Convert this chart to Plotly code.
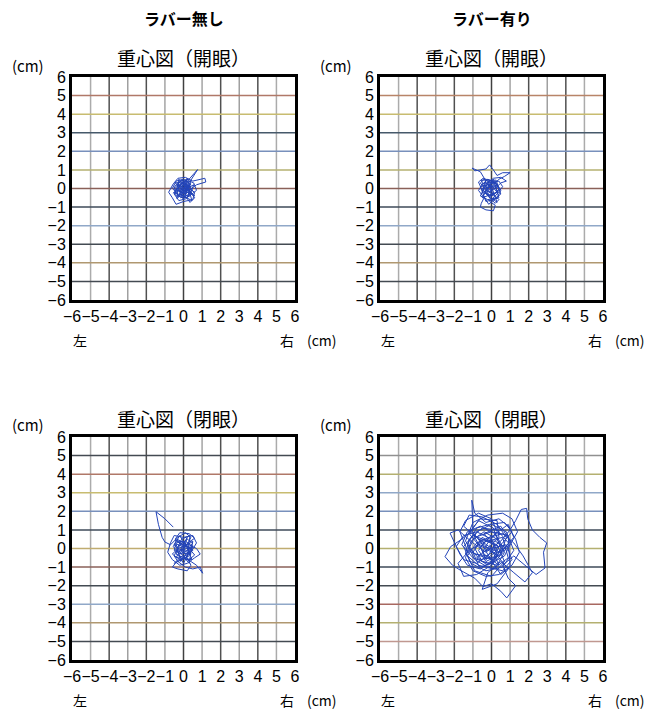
import plotly.graph_objects as go

W, H = 656, 711

# ---------------- data (cm) ----------------
ticks = [-6, -5, -4, -3, -2, -1, 0, 1, 2, 3, 4, 5, 6]
col_titles = ["ラバー無し", "ラバー有り"]
panel_titles = ["重心図（開眼）", "重心図（開眼）", "重心図（閉眼）", "重心図（閉眼）"]

p1_x = [0.0, 0.3, 0.1, -0.3, -0.1, 0.4, 0.2, -0.4, -0.5, -0.2, 0.3, 0.76, 0.4, 0.1, 0.6, 0.5, 0.0, -0.4, -0.6, -0.8,
        -0.55, -0.3, 0.1, 0.5, 1.15, 1.2, 0.7, 0.3, -0.1, -0.35, 0.0, 0.35, 0.25, -0.15, -0.45, -0.3, 0.1, 0.45, 0.7, 0.55,
        0.2, -0.2, -0.5, -0.25, 0.15, 0.4, 0.15, -0.15, 0.05, 0.3, 0.0, -0.4, -0.6, -0.3, 0.1, 0.35, 0.6, 0.3, 0.0, -0.2,
        0.2, 0.4, 0.1, -0.1,
        0.2, -0.3, 0.5, -0.1, -0.5, 0.3, 0.55, -0.2, 0.0, 0.4, -0.45, 0.1, 0.6, -0.25, -0.35, 0.25, 0.45, -0.1, 0.2, -0.55,
        0.35, 0.0, -0.2, 0.15, 0.05]
p1_y = [0.0, 0.2, -0.3, -0.1, 0.3, 0.1, -0.5, -0.4, 0.1, 0.4, 0.5, 1.02, 0.45, 0.1, -0.2, -0.6, -0.7, -0.85, -0.5, -0.2,
        0.25, 0.55, 0.6, 0.4, 0.55, 0.35, 0.2, -0.1, -0.25, 0.15, 0.35, 0.0, -0.35, -0.5, -0.2, 0.2, 0.0, -0.3, -0.1, 0.3,
        0.45, 0.2, -0.3, -0.65, -0.55, -0.2, 0.15, 0.0, -0.2, 0.3, 0.5, 0.4, 0.0, -0.3, -0.4, -0.75, -0.5, -0.1, 0.2, -0.15,
        -0.1, 0.25, 0.35, 0.1,
        0.3, -0.4, -0.1, 0.45, 0.0, -0.45, 0.2, -0.2, -0.6, 0.4, 0.3, -0.15, -0.4, 0.5, -0.55, 0.1, -0.65, -0.35, 0.55, -0.25,
        0.15, 0.25, 0.05, -0.3, 0.05]

p2_x = [0.0, -0.3, 0.2, 0.4, 0.0, -0.5, -0.3, -0.6, -1.05, -0.9, -0.3, -0.1, 0.1, 0.3, 0.6, 1.0, 0.7, 0.4, 0.1, -0.4,
        -0.6, -0.2, 0.3, 0.5, 0.2, -0.2, -0.5, -0.7, -0.4, -0.55, -0.6, -0.3, 0.1, 0.2, -0.1, 0.3, 0.6, 0.4, 0.0, -0.4,
        -0.6, -0.3, 0.1, 0.4, 0.2, -0.2, -0.5, -0.2, 0.2, 0.5, 0.8, 0.5, 0.1, -0.3, -0.1, 0.3, 0.0, -0.45, -0.7, -0.5,
        -0.1, 0.35, 0.15, -0.2, 0.0,
        -0.2, 0.3, -0.5, 0.1, 0.4, -0.3, -0.6, 0.2, 0.45, -0.1, -0.4, 0.0, 0.3, -0.25, -0.55, 0.25, 0.5, -0.15, -0.45, 0.05,
        0.35, -0.3, 0.1, -0.1, 0.0]
p2_y = [0.0, 0.3, 0.4, -0.1, -0.4, -0.2, 0.4, 0.9, 1.1, 0.95, 1.05, 1.27, 1.0, 0.7, 0.85, 0.85, 0.65, 0.5, 0.2, 0.0,
        -0.4, -0.6, -0.5, -0.1, 0.3, 0.5, 0.2, -0.1, -0.5, -0.8, -1.0, -1.15, -1.2, -0.9, -0.7, -0.3, 0.1, 0.4, 0.3, 0.5,
        0.3, -0.1, -0.3, -0.6, -0.8, -0.4, 0.0, 0.2, 0.0, 0.3, 0.4, 0.6, 0.55, 0.2, -0.2, 0.1, 0.4, 0.55, 0.35, -0.1,
        -0.35, -0.2, 0.15, 0.05, -0.15,
        0.4, -0.2, -0.5, 0.5, -0.5, -0.7, 0.1, 0.3, 0.0, -0.5, 0.35, 0.1, -0.75, -0.3, 0.45, 0.45, -0.3, -0.85, -0.35, 0.35,
        0.2, 0.0, -0.4, 0.2, -0.1]

p3_x = [-0.55, -1.0, -1.48, -1.35, -1.15, -1.0, -0.7, -0.3, 0.1, 0.4, 0.2, -0.3, -0.6, -0.2, 0.3, 0.5, 0.1, -0.4, -0.5, -0.1,
        0.4, 0.7, 0.5, 0.0, -0.5, -0.7, -0.85, -0.6, -0.2, 0.2, 0.6, 0.9, 0.7, 0.3, -0.2, -0.4, 0.0, 0.4, 0.7, 1.03,
        0.9, 0.5, 0.1, -0.3, -0.5, -0.3, 0.2, 0.5, 0.2, -0.2, -0.55, -0.35, 0.05, 0.35, 0.6, 0.3, -0.1, -0.4, -0.6, -0.3,
        0.2, 0.4, 0.2, -0.1, 0.3, 0.6, 0.3, -0.2, -0.45, -0.2, 0.1, -0.15, 0.2, 0.5, 0.3, 0.0,
        0.2, -0.4, 0.4, -0.2, -0.5, 0.3, 0.5, -0.3, 0.0, 0.4, -0.45, 0.1, 0.45, -0.2, -0.5, 0.2, 0.35, -0.1, -0.35, 0.15,
        0.5, -0.15, -0.4, 0.1, -0.05]
p3_y = [1.15, 1.6, 1.98, 1.3, 0.6, 0.35, 0.2, 0.6, 0.85, 0.6, 0.2, 0.0, -0.3, -0.6, -0.4, 0.1, 0.4, 0.3, -0.1, -0.3,
        -0.2, 0.3, 0.7, 0.6, 0.7, 0.3, -0.2, -0.6, -0.9, -0.8, -0.5, -0.3, 0.0, 0.2, 0.2, -0.3, -0.5, -0.7, -0.9, -1.33,
        -1.0, -1.1, -1.0, -0.7, -0.4, 0.1, 0.5, 0.3, -0.1, -0.3, 0.1, 0.5, 0.3, -0.05, -0.35, -0.6, -0.55, -0.75, -1.0, -1.1,
        -1.2, -0.9, -0.5, 0.0, 0.35, 0.55, 0.8, 0.85, 0.5, 0.3, 0.1, -0.15, -0.3, -0.1, 0.1, -0.1,
        0.6, -0.5, -0.3, 0.7, 0.2, -0.8, 0.4, -0.2, -0.8, 0.0, 0.45, 0.3, -0.6, -0.5, -0.8, -0.45, 0.7, 0.5, 0.0, -0.15,
        0.15, -0.7, 0.25, 0.05, -0.2]

p4_x = [0.0, -0.8, -1.5, -1.2, -0.5, 0.3, 0.8, 0.5, -0.2, -1.0, -1.6, -1.3, -0.6, 0.2, 0.6, 0.2, -0.6, -1.3, -1.7, -2.23,
        -1.8, -1.0, -0.3, 0.5, 1.0, 1.3, 1.6, 1.89, 1.95, 2.2, 2.6, 2.97, 2.8, 2.88, 2.4, 1.8, 1.2, 0.6, 0.9, 1.3,
        0.82, 0.5, 0.0, -0.46, -0.9, -1.69, -2.1, -2.5, -2.2, -1.6, -1.0, -1.06, -0.9, -0.3, 0.4, 0.9, 1.3, 1.5, 1.1, 0.4,
        -0.3, -1.0, -1.4, -1.1, -0.4, 0.3, 0.7, 0.3, -0.5, -0.9, -0.5, 0.2, -0.2, -0.9, -1.4, -1.0, -0.2, 0.6, 1.1, 1.4,
        1.0, 0.2, -0.7, -1.2, -0.7, 0.1, 0.5, 0.0, -0.8, -1.5, -1.8, -1.2, -0.5, 0.4, 0.9, 0.3, -0.5, -0.2, 0.5, 1.2,
        1.8, 2.2, 1.7, 1.2, 0.6, -0.1, -0.6, -0.3, 0.3, 0.0, -0.8, -1.5, -1.9, -1.5, -0.8, -0.1, 0.6, 1.1, 0.7, -0.1,
        -0.8, -1.3, -0.9, -0.2, 0.6, 1.1, 0.8, 0.0, -0.5, -0.2, 0.3, 0.0, -0.7, -1.4, -1.7, -1.3, -0.6, 0.1, 0.4, -0.3,
        -0.7, -0.3, 0.3, 0.1,
        -0.4, 0.5, 1.0, 0.4, -0.6, -1.2, -0.8, 0.0, 0.8, 1.2, 0.6, -0.3, -1.1, -1.5, -1.0, -0.2, 0.6, 0.9, 0.1, -0.7,
        -1.0, -0.5, 0.3, 0.7, 0.0, -0.9, -1.3, -0.8, 0.1, 0.9, 1.2, 0.5, -0.4, -1.1, -0.6, 0.3, 0.4, -0.3, -0.8, -0.2,
        0.7, 1.0, 0.3, -0.5, -1.2, -1.4, -0.6, 0.2, 0.8, 0.2, -0.6, -0.1, 0.5, 1.0, 0.9, 0.0, -0.9, -0.4, 0.4, -0.1]
p4_y = [0.0, 0.6, 1.2, 1.8, 1.7, 1.3, 0.6, -0.3, -0.8, -0.5, 0.2, 0.9, 1.2, 0.8, 0.1, -0.6, -1.1, -0.9, -0.3, 0.83,
        1.0, 0.3, -0.2, 0.4, 1.0, 1.5, 2.1, 2.16, 1.6, 1.0, 0.6, 0.3, -0.2, -1.05, -1.4, -0.9, -0.4, -0.9, -1.6, -2.0,
        -2.66, -2.3, -1.9, -2.05, -1.6, -1.16, -0.9, -0.44, 0.1, 0.5, 1.0, 2.6, 1.9, 1.4, 1.6, 1.2, 0.5, -0.2, -0.9, -1.4,
        -1.5, -1.2, -0.5, 0.4, 0.9, 0.5, -0.2, -0.9, -0.7, 0.0, 0.6, 0.2, -0.4, -0.3, 0.4, 1.4, 1.8, 1.9, 1.6, 0.9,
        0.2, -0.3, 0.2, 0.8, 1.5, 1.1, 0.0, -0.9, -1.4, -1.5, -0.8, -0.1, 0.3, -0.5, -1.1, -1.9, -2.2, -1.3, -0.7, -1.3,
        -1.8, -1.3, -0.4, 0.3, 0.8, 0.6, 0.1, -0.6, -0.1, 0.5, 0.9, 0.7, 0.1, -0.6, -0.8, -0.3, 0.3, 0.9, 1.4, 1.3,
        1.1, 0.2, -0.6, -1.0, -1.2, -0.6, 0.2, 0.0, -0.2, 0.3, 0.9, 1.6, 1.9, 1.5, 0.9, -0.1, -0.4, -0.6, 0.1, 0.4,
        -0.1, -0.7, -0.4, 0.2,
        0.8, 1.2, 0.4, -0.4, -0.6, 0.0, 0.9, 1.3, 0.9, -0.1, -1.0, -1.2, -0.8, 0.1, 0.7, 0.4, 0.6, -0.5, -1.1, -0.9,
        -0.2, 0.5, 0.2, -0.7, -1.5, -1.2, -0.4, 0.3, 0.7, 1.3, 0.6, -0.2, 0.1, 1.0, 1.6, 1.5, 0.6, -0.1, -0.5, -0.9,
        -0.4, 0.2, 1.0, 1.1, 0.5, -0.3, -1.0, -0.7, 0.0, 0.4, 0.4, -0.5, -1.4, -1.0, 0.7, 0.9, 0.6, -0.3, -0.9, 0.2]

paths = [(p1_x, p1_y), (p2_x, p2_y), (p3_x, p3_y), (p4_x, p4_y)]

# ---------------- style ----------------
TRACE_COLOR = "#2344b8"
CJK = "Noto Sans CJK JP"
NUM = "Liberation Sans, Arial, sans-serif"

# plot boxes in pixels: (left, top, right, bottom)
boxes = [(72, 77, 295, 300), (380, 77, 603, 300), (72, 437, 295, 660), (380, 437, 603, 660)]

# horizontal grid colours for y = 5 .. -5
hcolors = [
    ["#b07868", "#c8bc70", "#46596a", "#7890bc", "#b4b070", "#8a6058", "#3e4a58", "#90a8c8", "#434a52", "#b09870", "#434a52"],
    ["#b88468", "#c8bc70", "#46596a", "#7890bc", "#b4b070", "#8a6058", "#3e4a58", "#90a8c8", "#434a52", "#b09870", "#434a52"],
    ["#434a52", "#b07868", "#c8bc70", "#7890bc", "#3e4a58", "#c0ac70", "#8a6058", "#434a52", "#90a8c8", "#b09870", "#434a52"],
    ["#909090", "#b4b070", "#90a8c8", "#7890bc", "#3e4a58", "#b4b070", "#3e4a58", "#434a52", "#a86860", "#b4b070", "#c09890"],
]
vcolors = ["#ababab", "#505050", "#a0a0a0", "#505050", "#a4a4a4", "#404040", "#a4a4a4", "#505050", "#a0a0a0", "#505050", "#ababab"]


def px(x):
    return x / W


def py(y):
    return 1 - y / H


fig = go.Figure()
shapes = []
annotations = []

for i, (b, (xs, ys)) in enumerate(zip(boxes, paths)):
    n = "" if i == 0 else str(i + 1)
    xa, ya = "xaxis" + n, "yaxis" + n
    xr, yr = "x" + n, "y" + n
    fig.add_trace(go.Scatter(x=xs, y=ys, mode="lines", xaxis=xr, yaxis=yr,
                             line=dict(color=TRACE_COLOR, width=1),
                             hoverinfo="skip", showlegend=False))
    axis_common = dict(range=[-6, 6], tickvals=ticks, ticktext=[str(t).replace("-", "−") for t in ticks],
                       showgrid=False, zeroline=False, showline=True, mirror=True,
                       linecolor="black", linewidth=3, ticks="", tickangle=0, automargin=False,
                       tickfont=dict(family=NUM, size=16, color="black"), fixedrange=True)
    fig.update_layout(**{
        xa: dict(axis_common, domain=[px(b[0]), px(b[2])], anchor=yr),
        ya: dict(axis_common, domain=[py(b[3]), py(b[1])], anchor=xr),
    })
    for k, v in enumerate(range(-5, 6)):
        shapes.append(dict(type="line", xref=xr, yref=yr, x0=v, x1=v, y0=-6, y1=6,
                           line=dict(color=vcolors[k], width=1.5), layer="below"))
    for k, v in enumerate(range(5, -6, -1)):
        shapes.append(dict(type="line", xref=xr, yref=yr, x0=-6, x1=6, y0=v, y1=v,
                           line=dict(color=hcolors[i][k], width=1.5), layer="below"))

    cx = (b[0] + b[2]) / 2
    annotations.append(dict(text=panel_titles[i], x=px(cx), y=py(b[1] - 19), xref="paper", yref="paper",
                            showarrow=False, font=dict(family=CJK, size=19, color="black"),
                            xanchor="center", yanchor="middle"))
    annotations.append(dict(text="(cm)", x=px(b[0] - 44), y=py(b[1] - 12), xref="paper", yref="paper",
                            showarrow=False, font=dict(family=CJK, size=15, color="black"),
                            xanchor="center", yanchor="middle"))
    annotations.append(dict(text="左", x=px(b[0] + 8), y=py(b[3] + 40), xref="paper", yref="paper",
                            showarrow=False, font=dict(family=CJK, size=14, color="black"),
                            xanchor="center", yanchor="middle"))
    annotations.append(dict(text="右", x=px(b[2] - 8), y=py(b[3] + 40), xref="paper", yref="paper",
                            showarrow=False, font=dict(family=CJK, size=14, color="black"),
                            xanchor="center", yanchor="middle"))
    annotations.append(dict(text="(cm)", x=px(b[2] + 27), y=py(b[3] + 40), xref="paper", yref="paper",
                            showarrow=False, font=dict(family=CJK, size=14, color="black"),
                            xanchor="center", yanchor="middle", borderpad=0))

for j, t in enumerate(col_titles):
    b = boxes[j]
    annotations.append(dict(text="<b>" + t + "</b>", x=px((b[0] + b[2]) / 2), y=py(18), xref="paper", yref="paper",
                            showarrow=False, font=dict(family=CJK, size=16, color="black"),
                            xanchor="center", yanchor="middle"))

fig.update_layout(width=W, height=H, margin=dict(l=0, r=0, t=0, b=0),
                  paper_bgcolor="white", plot_bgcolor="white",
                  shapes=shapes, annotations=annotations, showlegend=False)

fig.write_html("out.html", config={"displayModeBar": False},
               post_script="document.body.style.margin='0';document.body.style.padding='0';"
                           "document.body.style.overflow='hidden';")
